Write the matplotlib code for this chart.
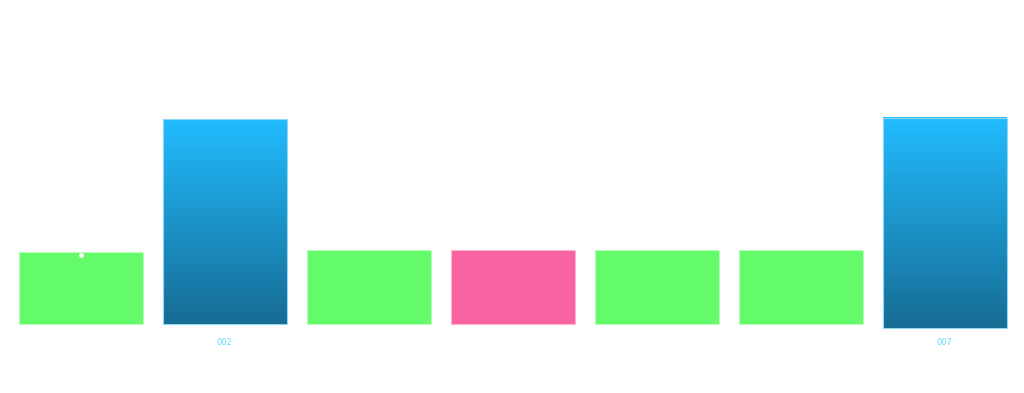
import matplotlib.pyplot as plt
import numpy as np
from matplotlib.colors import LinearSegmentedColormap

# bar data (heights measured from bottom of each bar)
positions = [0, 1, 2, 3, 4, 5, 6]
values = [72, 205, 74, 74, 74, 74, 210.5]
bottoms = [0, 0, 0, 0, 0, 0, -4]
kinds = ['green', 'blue', 'green', 'pink', 'green', 'green', 'blue']
labels = ['', '002', '', '', '', '', '007']
marker_bar = 0
marker_value = 69

flat = {'green': '#64fb6a', 'pink': '#f764a1'}
edges = {'green': '#b8fdb9', 'pink': '#fcb4d0', 'blue': '#8fd8f5'}
grad = LinearSegmentedColormap.from_list('g', ['#166c94', '#22bcff'])

fig = plt.figure(figsize=(10.24, 3.93), dpi=100)
ax = fig.add_axes([8.5 / 1024, 0, 1008 / 1024, 1])
ax.set_xlim(-0.5, 6.5)
ax.set_ylim(-69, 324)
ax.axis('off')

w = 124 / 144
for x, v, b, k, lab in zip(positions, values, bottoms, kinds, labels):
    if k == 'blue':
        g = np.linspace(0, 1, 256).reshape(-1, 1)
        ax.imshow(g, cmap=grad, origin='lower', aspect='auto',
                  extent=(x - w / 2, x + w / 2, b, b + v), zorder=1)
        ax.bar(x, v, bottom=b, width=w, facecolor='none',
               edgecolor=edges[k], linewidth=0.8, zorder=2)
    else:
        ax.bar(x, v, bottom=b, width=w, color=flat[k],
               edgecolor=edges[k], linewidth=0.8, zorder=2)
    if lab:
        ax.text(x, -18.5, lab, ha='center', va='center', fontsize=6,
                color='#66dcff')

ax.scatter([marker_bar], [marker_value], s=6, color='white', zorder=3)

fig.savefig('out.png', dpi=100)
